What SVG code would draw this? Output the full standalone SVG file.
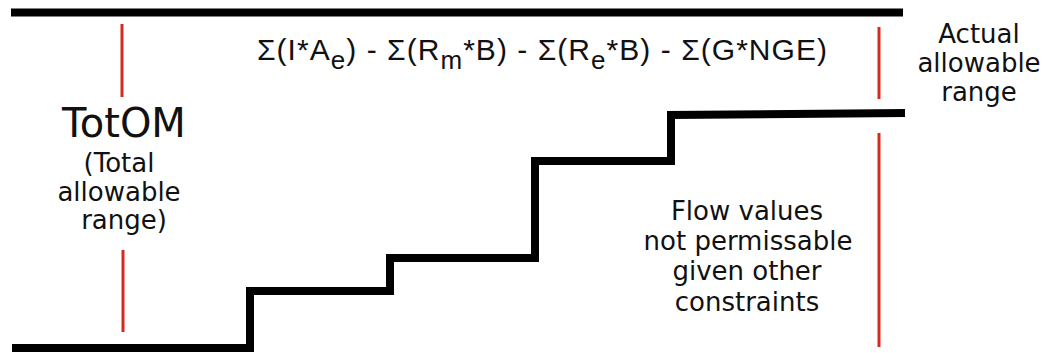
<svg xmlns="http://www.w3.org/2000/svg" width="1047" height="353" viewBox="0 0 1047 353">
<style>
.bar{stroke:#000;stroke-width:8;fill:none;stroke-linejoin:miter;stroke-linecap:butt}
.red{stroke:#d42a20;stroke-width:3;fill:none}
.t{font-family:"DejaVu Sans",sans-serif;font-size:26px;fill:#111;text-anchor:middle}
.big{font-size:40px}
.f{font-family:"Liberation Sans",Arial,sans-serif;font-size:30px;fill:#111}
.sub{font-size:26px}
</style>
<rect width="1047" height="353" fill="#fff"/>
<g id="connectors">
<line class="bar" x1="11" y1="12.5" x2="903" y2="12.5"/>
<polyline class="bar" points="12,348 250,348 250,291 390,291 390,258 535,258 535,161 671,161 671,115 905,113"/>
<line class="red" x1="122" y1="24" x2="122" y2="97"/>
<line class="red" x1="123" y1="250" x2="123" y2="332"/>
<line class="red" x1="879" y1="27" x2="879" y2="99"/>
<line class="red" x1="879" y1="133" x2="879" y2="347"/>
</g>
<g id="formula">
<text class="f" x="257" y="60" textLength="570" lengthAdjust="spacing">Σ(I*A<tspan class="sub" dy="9">e</tspan><tspan dy="-9">) - Σ(R</tspan><tspan class="sub" dy="9">m</tspan><tspan dy="-9">*B) - Σ(R</tspan><tspan class="sub" dy="9">e</tspan><tspan dy="-9">*B) - Σ(G*NGE)</tspan></text>
</g>
<g id="actual-range">
<text class="t" x="979" y="43">Actual</text>
<text class="t" x="979" y="72">allowable</text>
<text class="t" x="979" y="101">range</text>
</g>
<g id="totom">
<text class="t big" x="124" y="137">TotOM</text>
<text class="t" x="119" y="172">(Total</text>
<text class="t" x="119" y="201">allowable</text>
<text class="t" x="124" y="229">range)</text>
</g>
<g id="not-permissable">
<text class="t" x="747" y="220">Flow values</text>
<text class="t" x="748" y="250">not permissable</text>
<text class="t" x="747" y="280">given other</text>
<text class="t" x="747" y="311">constraints</text>
</g>
</svg>
